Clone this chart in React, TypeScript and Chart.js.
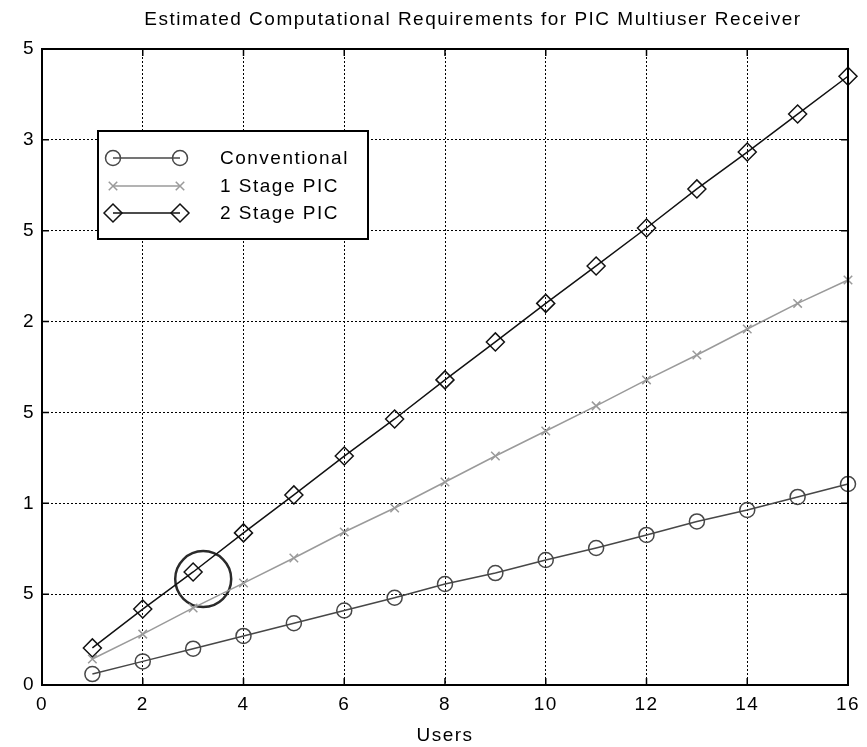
import React, { useEffect, useRef } from 'react';
import { Chart, registerables } from 'chart.js';
import { drawPoint } from 'chart.js/helpers';

Chart.register(...registerables);

const chartTitle = 'Estimated Computational Requirements for PIC Multiuser Receiver';
const xAxisTitle = 'Users';
const users = [1, 2, 3, 4, 5, 6, 7, 8, 9, 10, 11, 12, 13, 14, 15, 16];
const conventional = [0.06, 0.13, 0.2, 0.27, 0.34, 0.41, 0.48, 0.556, 0.616, 0.688, 0.754, 0.826, 0.9, 0.963, 1.035, 1.106];
const stage1 = [0.143, 0.28, 0.424, 0.561, 0.699, 0.842, 0.974, 1.117, 1.26, 1.398, 1.536, 1.679, 1.816, 1.959, 2.1, 2.229];
const stage2 = [0.204, 0.418, 0.622, 0.837, 1.046, 1.26, 1.464, 1.679, 1.888, 2.1, 2.306, 2.515, 2.73, 2.933, 3.142, 3.35];
const seriesNames = ['Conventional', '1 Stage PIC', '2 Stage PIC'];
const yTickLabels = ['0', '5', '1', '5', '2', '5', '3', '5'];
const highlightX = [3.2];
const highlightY = [0.583];

const FONT = '"Liberation Sans", Arial, sans-serif';
const FONT_SIZE = 19;
const SPACING = '1.5px';

const toPoints = (xs: number[], ys: number[]) => xs.map((x, i) => ({ x, y: ys[i] }));

const styles = [
  { color: '#474747', pointStyle: 'circle', radius: 7.5 },
  { color: '#9a9a9a', pointStyle: 'crossRot', radius: 6 },
  { color: '#111111', pointStyle: 'rectRot', radius: 9 },
];

const decorPlugin = {
  id: 'decor',
  beforeDraw(chart: any) {
    chart.ctx.letterSpacing = SPACING;
  },
  afterDraw(chart: any) {
    const ctx = chart.ctx;
    const { left, right, top, bottom } = chart.chartArea;
    const xs = chart.scales.x;
    const ys = chart.scales.y;
    ctx.save();
    ctx.letterSpacing = SPACING;
    // inward ticks
    ctx.strokeStyle = '#000';
    ctx.lineWidth = 1.5;
    ctx.setLineDash([]);
    ctx.beginPath();
    xs.ticks.forEach((t: any) => {
      const px = xs.getPixelForValue(t.value);
      ctx.moveTo(px, bottom);
      ctx.lineTo(px, bottom - 7);
      ctx.moveTo(px, top);
      ctx.lineTo(px, top + 7);
    });
    ys.ticks.forEach((t: any) => {
      const py = ys.getPixelForValue(t.value);
      ctx.moveTo(left, py);
      ctx.lineTo(left + 7, py);
      ctx.moveTo(right, py);
      ctx.lineTo(right - 7, py);
    });
    ctx.stroke();
    // box
    ctx.lineWidth = 2;
    ctx.strokeRect(left, top, right - left, bottom - top);

    // title
    ctx.fillStyle = '#000';
    ctx.font = `${FONT_SIZE}px ${FONT}`;
    ctx.textAlign = 'center';
    ctx.textBaseline = 'middle';
    ctx.fillText(chartTitle, 473, 20);

    // legend
    const lx = 98, ly = 131, lw = 270, lh = 108;
    ctx.fillStyle = '#fff';
    ctx.fillRect(lx, ly, lw, lh);
    ctx.strokeStyle = '#000';
    ctx.lineWidth = 2;
    ctx.strokeRect(lx, ly, lw, lh);
    const rows = [158, 186, 213];
    seriesNames.forEach((name, i) => {
      const st = styles[i];
      const y = rows[i];
      ctx.strokeStyle = st.color;
      ctx.lineWidth = 1.5;
      ctx.beginPath();
      ctx.moveTo(113, y);
      ctx.lineTo(180, y);
      ctx.stroke();
      ctx.fillStyle = 'rgba(0,0,0,0)';
      [113, 180].forEach((px) => {
        drawPoint(ctx, { pointStyle: st.pointStyle, radius: st.radius, rotation: 0, borderWidth: 1.5 } as any, px, y);
      });
      ctx.fillStyle = '#000';
      ctx.textAlign = 'left';
      ctx.fillText(name, 220, y + 1);
    });
    ctx.restore();
  },
};

export default function App() {
  const ref = useRef<HTMLCanvasElement>(null);
  useEffect(() => {
    if (!ref.current) return;
    const mk = (i: number, ys: number[]) => ({
      label: seriesNames[i],
      data: toPoints(users, ys),
      showLine: true,
      borderColor: styles[i].color,
      borderWidth: 1.5,
      pointStyle: styles[i].pointStyle,
      pointRadius: styles[i].radius,
      pointBorderWidth: 1.5,
      pointBorderColor: styles[i].color,
      pointBackgroundColor: 'rgba(0,0,0,0)',
      clip: false,
    });
    const chart = new Chart(ref.current, {
      type: 'scatter',
      data: {
        datasets: [
          mk(0, conventional),
          mk(1, stage1),
          mk(2, stage2),
          {
            label: 'highlight',
            data: toPoints(highlightX, highlightY),
            showLine: false,
            pointStyle: 'circle',
            pointRadius: 28,
            pointBorderWidth: 2.5,
            pointBorderColor: '#2a2a2a',
            pointBackgroundColor: 'rgba(0,0,0,0)',
          } as any,
        ],
      },
      options: {
        animation: false,
        responsive: false,
        devicePixelRatio: 1,
        layout: { autoPadding: false, padding: { top: 49, right: 19, left: 0, bottom: 0 } },
        plugins: { legend: { display: false }, title: { display: false }, tooltip: { enabled: false } },
        scales: {
          x: {
            type: 'linear',
            min: 0,
            max: 16,
            ticks: { stepSize: 2, color: '#000', font: { size: FONT_SIZE, family: FONT }, padding: 8, maxRotation: 0 },
            grid: { color: '#000', lineWidth: 1, drawTicks: false },
            border: { display: true, color: '#000', width: 2, dash: [2, 2] },
            title: { display: true, text: xAxisTitle, color: '#000', font: { size: FONT_SIZE, family: FONT }, padding: 0 },
            afterFit: (s: any) => { s.height = 62; },
          },
          y: {
            type: 'linear',
            min: 0,
            max: 3.5,
            ticks: {
              stepSize: 0.5,
              color: '#000',
              font: { size: FONT_SIZE, family: FONT },
              padding: 7,
              callback: (_v: any, i: number) => yTickLabels[i],
            },
            grid: { color: '#000', lineWidth: 1, drawTicks: false },
            border: { display: true, color: '#000', width: 2, dash: [2, 2] },
            afterFit: (s: any) => { s.width = 42; },
          },
        },
      },
      plugins: [decorPlugin],
    } as any);
    return () => chart.destroy();
  }, []);
  return (
    <div style={{ position: 'fixed', left: 0, top: 0, width: 867, height: 747, background: '#fff' }}>
      <canvas ref={ref} width={867} height={747} style={{ display: 'block' }} />
    </div>
  );
}
